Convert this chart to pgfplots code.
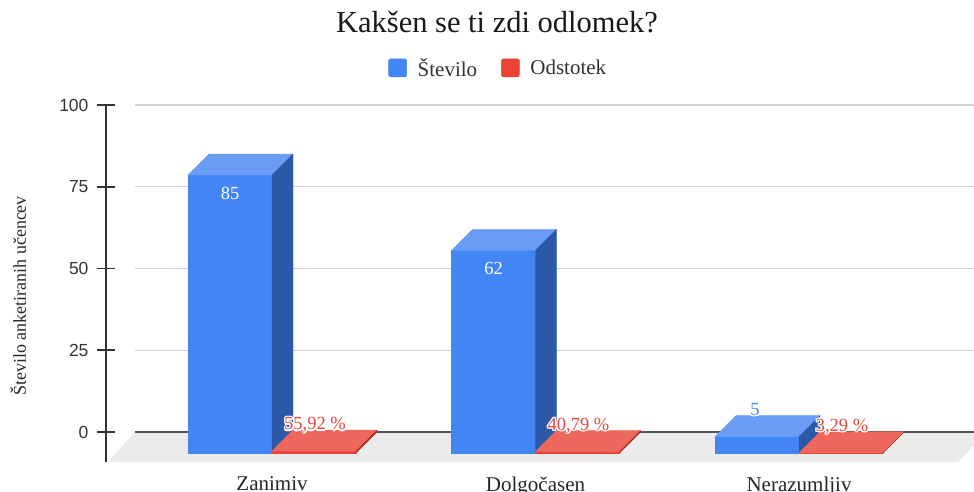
\documentclass[border=0pt]{standalone}
\usepackage{fontspec}
\setmainfont{Liberation Serif}
\setsansfont{Liberation Sans}
\usepackage{pgfplots}
\pgfplotsset{compat=1.18}
\definecolor{blueF}{HTML}{4285F4}
\definecolor{blueT}{HTML}{6A9CF6}
\definecolor{blueS}{HTML}{2C58A8}
\definecolor{redF}{HTML}{EA4335}
\definecolor{redT}{HTML}{EE675C}
\definecolor{redS}{HTML}{B0372C}
\definecolor{redL}{HTML}{EA4335}
\definecolor{redTxt}{HTML}{E5483B}
\definecolor{floorc}{HTML}{EBEBEB}
\definecolor{gridc}{HTML}{D3D3D3}
\definecolor{zeroc}{HTML}{555555}
\definecolor{axc}{HTML}{333333}
\newcommand\lbl{\fontsize{18.5}{20}\selectfont}
\def\yu{3.27}
\begin{document}
\begin{tikzpicture}
\path[use as bounding box] (0,0) rectangle (974pt,492pt);
\begin{axis}[
  at={(106pt,30pt)}, anchor=south west,
  scale only axis, width=868pt, height=357pt,
  xmin=-0.630, xmax=2.664, ymin=-9.17, ymax=100,
  clip=false,
  axis y line*=left, axis x line*=bottom,
  axis line style={-},
  x axis line style={draw=none},
  y axis line style={draw=axc, line width=1.6pt},
  xtick={0,1,2},
  xticklabels={Zanimiv,Dolgočasen,Nerazumljiv},
  xtick style={draw=none},
  xticklabel style={font=\fontsize{21}{24}\selectfont, text=black!85, yshift=-2pt},
  ytick={0,25,50,75,100},
  tick align=center,
  major tick length=18pt,
  ytick style={draw=axc, line width=1.6pt},
  yticklabel style={font=\sffamily\fontsize{17.5}{20}\selectfont, text=black!80, xshift=-5pt},
  /pgf/number format/assume math mode=true,
  ylabel={Število anketiranih učencev},
  ylabel style={at={(axis description cs:-0.101,0.465)}, anchor=center, font=\fontsize{18}{20}\selectfont, text=black!85},
  title={Kakšen se ti zdi odlomek?},
  title style={at={(axis description cs:0.4505,1.2017)}, anchor=base, yshift=-6pt, font=\fontsize{30.5}{34}\selectfont, text=black!90},
  legend columns=2,
  legend style={at={(axis description cs:0.452,1.104)}, anchor=center, draw=none, fill=none,
    font=\fontsize{21}{24}\selectfont, text=black!80,
    /tikz/every even column/.append style={column sep=22pt}},
]
% floor
\fill[floorc] (axis cs:-0.6224,-9.17) -- (axis cs:2.603,-9.17) -- (axis cs:2.717,0) -- (axis cs:-0.520,0) -- cycle;
% grid
\pgfplotsinvokeforeach{25,50,75,100}{\draw[gridc, line width=1.2pt] (axis cs:-0.520,#1) -- (axis cs:2.664,#1);}
\draw[zeroc, line width=1.6pt] (axis cs:-0.520,0) -- (axis cs:2.664,0);

\addlegendimage{legend image code/.code={\fill[blueF, rounded corners=2pt] (0pt,-9pt) rectangle (18pt,9pt); \path[draw=none,fill=none] (0pt,0pt) -- (27pt,0pt);}}
\addlegendentry{Število}
\addlegendimage{legend image code/.code={\fill[redL, rounded corners=2pt] (0pt,-9pt) rectangle (18pt,9pt); \path[draw=none,fill=none] (0pt,0pt) -- (27pt,0pt);}}
\addlegendentry{Odstotek}

% Število
\addplot[forget plot, scatter, only marks, mark=text, text mark={},
  visualization depends on={rawy \as \rawv},
  scatter/@pre marker code/.code={%
    \pgfmathsetmacro\hh{\rawv*\yu}%
    \fill[blueF] (-84pt,-21pt) rectangle (0pt,{-21pt-\hh pt});
    \fill[blueT] (-84pt,-21pt) -- (0pt,-21pt) -- (21pt,0pt) -- (-63pt,0pt) -- cycle;
    \fill[blueS] (0pt,-21pt) -- (21pt,0pt) -- (21pt,{-\hh pt}) -- (0pt,{-21pt-\hh pt}) -- cycle;
    \ifdim\hh pt>40pt
      \node[text=white, font=\lbl] at (-42pt,-39pt) {\pgfmathprintnumber{\rawv}};
    \else
      \foreach \a in {0,30,...,330}{\node[text=white, font=\lbl] at ([shift={(\a:1.3pt)}]-44pt,6pt) {\pgfmathprintnumber{\rawv}};}
      \node[text=blueF, font=\lbl] at (-44pt,6pt) {\pgfmathprintnumber{\rawv}};
    \fi
  },
  scatter/@post marker code/.code={},
] coordinates {(0,85) (1,62) (2,5)};

% Odstotek
\addplot[forget plot, scatter, only marks, mark=text, text mark={},
  visualization depends on={rawy \as \rawv},
  scatter/@pre marker code/.code={%
    \pgfmathsetmacro\hh{\rawv*\yu}%
    \pgfmathsetmacro\pp{\rawv*100}%
    \fill[redF] (0pt,-21pt) rectangle (84pt,{-21pt-\hh pt});
    \fill[redT] (0pt,-21pt) -- (84pt,-21pt) -- (105pt,0pt) -- (21pt,0pt) -- cycle;
    \fill[redS] (84pt,-21pt) -- (105pt,0pt) -- (105pt,{-\hh pt}) -- (84pt,{-21pt-\hh pt}) -- cycle;
    \foreach \a in {0,30,...,330}{\node[text=white, font=\lbl] at ([shift={(\a:1.3pt)}]43pt,5pt) {\pgfmathprintnumber[fixed,precision=2,fixed zerofill,use comma]{\pp}~\%};}
    \node[text=redTxt, font=\lbl] at (43pt,5pt) {\pgfmathprintnumber[fixed,precision=2,fixed zerofill,use comma]{\pp}~\%};
  },
  scatter/@post marker code/.code={},
] coordinates {(0,0.5592) (1,0.4079) (2,0.0329)};
\end{axis}
\end{tikzpicture}
\end{document}
